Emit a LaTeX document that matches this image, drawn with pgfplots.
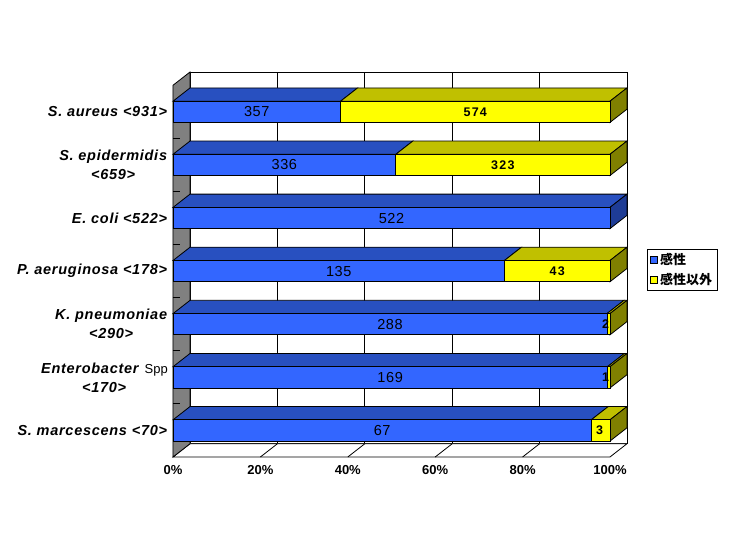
\documentclass[border=0pt]{standalone}
\usepackage{fontspec}
\setmainfont{Liberation Sans}
\newfontfamily\cjk{Noto Sans CJK JP}
\usepackage{pgfplots}
\pgfplotsset{compat=1.18}
\definecolor{blueF}{HTML}{3366FF}
\definecolor{blueT}{HTML}{2850C0}
\definecolor{blueS}{HTML}{1E3C96}
\definecolor{yelF}{HTML}{FFFF00}
\definecolor{yelT}{HTML}{C0C000}
\definecolor{yelS}{HTML}{808000}
\definecolor{wallG}{HTML}{808080}
\begin{document}
\begin{tikzpicture}
\useasboundingbox (0,0) rectangle (730pt,551pt);
\begin{axis}[
  at={(173pt,94pt)}, anchor=south west,
  scale only axis, width=454pt, height=385pt,
  xmin=0, xmax=103.9, ymin=-0.5, ymax=6.75,
  clip=false,
  axis line style={draw=none},
  major tick length=0pt,
  tick style={draw=none},
  xtick={0,20,40,60,80,100},
  xticklabels={0\%,20\%,40\%,60\%,80\%,100\%},
  xticklabel style={font=\bfseries\fontsize{13}{15}\selectfont, inner sep=0pt, anchor=north, yshift=-8pt},
  ytick={0,1,2,3,4,5,6},
  yticklabels={
    {\textit{S. marcescens <70>}},
    {\textit{Enterobacter} {\normalfont\fontsize{13}{19}\selectfont Spp}\\\textit{<170>}},
    {\textit{K. pneumoniae}\\\textit{<290>}},
    {\textit{P. aeruginosa <178>}},
    {\textit{E. coli <522>}},
    {\textit{S. epidermidis}\\\textit{<659>}},
    {\textit{S. aureus <931>}}},
  yticklabel style={font=\bfseries\fontsize{14.5}{19}\selectfont\addfontfeatures{LetterSpace=5}, align=center, inner sep=0pt, anchor=east, xshift=-5pt},
  legend style={at={(1.044,0.540)}, anchor=north west, draw=black, line width=0.8pt,
    font=\cjk\bfseries\fontsize{13}{15}\selectfont, inner xsep=3pt, inner ysep=2pt, row sep=3pt,
    cells={anchor=west}},
  legend image code/.code={\draw[#1, draw=black, line width=0.7pt] (0pt,-3.5pt) rectangle (7pt,3.5pt);},
]
% back wall
\addplot[fill=white, draw=black, line width=0.8pt, forget plot] coordinates {(3.9,-0.25) (103.9,-0.25) (103.9,6.75) (3.9,6.75)} -- cycle;
\pgfplotsinvokeforeach{23.9,43.9,63.9,83.9}{
  \addplot[black, line width=0.8pt, forget plot] coordinates {(#1,-0.25) (#1,6.75)};
}
% floor
\addplot[fill=white, draw=black, line width=0.8pt, forget plot] coordinates {(0,-0.5) (100,-0.5) (103.9,-0.25) (3.9,-0.25)} -- cycle;
\pgfplotsinvokeforeach{20,40,60,80}{
  \addplot[black, line width=0.8pt, forget plot] coordinates {(#1,-0.5) (#1+3.9,-0.25)};
}
% left wall
\addplot[fill=wallG, draw=black, line width=0.8pt, forget plot] coordinates {(0,-0.5) (3.9,-0.25) (3.9,6.75) (0,6.5)} -- cycle;
\pgfplotsinvokeforeach{0.5,1.5,2.5,3.5,4.5,5.5}{
  \addplot[black, line width=0.8pt, forget plot] coordinates {(0,#1) (1.6,#1)};
}
% top and side faces
% S. aureus
\addplot[fill=blueT, draw=black, line width=0.8pt, forget plot] coordinates {(0,6.2) (38.35,6.2) (42.25,6.45) (3.9,6.45)} -- cycle;
\addplot[fill=yelT, draw=black, line width=0.8pt, forget plot] coordinates {(38.35,6.2) (100,6.2) (103.9,6.45) (42.25,6.45)} -- cycle;
\addplot[fill=yelS, draw=black, line width=0.8pt, forget plot] coordinates {(100,5.8) (103.9,6.05) (103.9,6.45) (100,6.2)} -- cycle;
% S. epidermidis
\addplot[fill=blueT, draw=black, line width=0.8pt, forget plot] coordinates {(0,5.2) (50.99,5.2) (54.89,5.45) (3.9,5.45)} -- cycle;
\addplot[fill=yelT, draw=black, line width=0.8pt, forget plot] coordinates {(50.99,5.2) (100,5.2) (103.9,5.45) (54.89,5.45)} -- cycle;
\addplot[fill=yelS, draw=black, line width=0.8pt, forget plot] coordinates {(100,4.8) (103.9,5.05) (103.9,5.45) (100,5.2)} -- cycle;
% E. coli
\addplot[fill=blueT, draw=black, line width=0.8pt, forget plot] coordinates {(0,4.2) (100,4.2) (103.9,4.45) (3.9,4.45)} -- cycle;
\addplot[fill=blueS, draw=black, line width=0.8pt, forget plot] coordinates {(100,3.8) (103.9,4.05) (103.9,4.45) (100,4.2)} -- cycle;
% P. aeruginosa
\addplot[fill=blueT, draw=black, line width=0.8pt, forget plot] coordinates {(0,3.2) (75.84,3.2) (79.74,3.45) (3.9,3.45)} -- cycle;
\addplot[fill=yelT, draw=black, line width=0.8pt, forget plot] coordinates {(75.84,3.2) (100,3.2) (103.9,3.45) (79.74,3.45)} -- cycle;
\addplot[fill=yelS, draw=black, line width=0.8pt, forget plot] coordinates {(100,2.8) (103.9,3.05) (103.9,3.45) (100,3.2)} -- cycle;
% K. pneumoniae
\addplot[fill=blueT, draw=black, line width=0.8pt, forget plot] coordinates {(0,2.2) (99.31,2.2) (103.21,2.45) (3.9,2.45)} -- cycle;
\addplot[fill=yelT, draw=black, line width=0.8pt, forget plot] coordinates {(99.31,2.2) (100,2.2) (103.9,2.45) (103.21,2.45)} -- cycle;
\addplot[fill=yelS, draw=black, line width=0.8pt, forget plot] coordinates {(100,1.8) (103.9,2.05) (103.9,2.45) (100,2.2)} -- cycle;
% Enterobacter
\addplot[fill=blueT, draw=black, line width=0.8pt, forget plot] coordinates {(0,1.2) (99.41,1.2) (103.31,1.45) (3.9,1.45)} -- cycle;
\addplot[fill=yelT, draw=black, line width=0.8pt, forget plot] coordinates {(99.41,1.2) (100,1.2) (103.9,1.45) (103.31,1.45)} -- cycle;
\addplot[fill=yelS, draw=black, line width=0.8pt, forget plot] coordinates {(100,0.8) (103.9,1.05) (103.9,1.45) (100,1.2)} -- cycle;
% S. marcescens
\addplot[fill=blueT, draw=black, line width=0.8pt, forget plot] coordinates {(0,0.2) (95.71,0.2) (99.61,0.45) (3.9,0.45)} -- cycle;
\addplot[fill=yelT, draw=black, line width=0.8pt, forget plot] coordinates {(95.71,0.2) (100,0.2) (103.9,0.45) (99.61,0.45)} -- cycle;
\addplot[fill=yelS, draw=black, line width=0.8pt, forget plot] coordinates {(100,-0.2) (103.9,0.05) (103.9,0.45) (100,0.2)} -- cycle;
% front faces: total (yellow) then susceptible share (blue)
\addplot[xbar, bar width=0.4, bar shift=0pt, fill=yelF, draw=black, line width=0.8pt, forget plot]
  coordinates {(100,0) (100,1) (100,2) (100,3) (100,5) (100,6)};
\addplot[xbar, bar width=0.4, bar shift=0pt, fill=blueF, draw=black, line width=0.8pt, forget plot]
  coordinates {(95.71,0) (99.41,1) (99.31,2) (75.84,3) (100,4) (50.99,5) (38.35,6)};
% labels
\addplot[draw=none, mark=none, forget plot, nodes near coords, point meta=explicit symbolic,
  every node near coord/.append style={anchor=center, inner sep=0pt, font=\fontsize{14.5}{16}\selectfont\addfontfeatures{LetterSpace=4}}]
  coordinates {(47.86,0) [67] (49.70,1) [169] (49.65,2) [288] (37.92,3) [135] (50,4) [522] (25.49,5) [336] (19.17,6) [357]};
\addplot[draw=none, mark=none, forget plot, nodes near coords, point meta=explicit symbolic,
  every node near coord/.append style={anchor=center, inner sep=0pt, font=\bfseries\fontsize{12.5}{14}\selectfont\addfontfeatures{LetterSpace=10}}]
  coordinates {(97.6,0) [3] (99.0,1) [1] (99.0,2) [2] (87.92,3) [43] (75.49,5) [323] (69.17,6) [574]};
\addlegendimage{fill=blueF}
\addlegendentry{感性}
\addlegendimage{fill=yelF}
\addlegendentry{感性以外}
\end{axis}
\end{tikzpicture}
\end{document}
